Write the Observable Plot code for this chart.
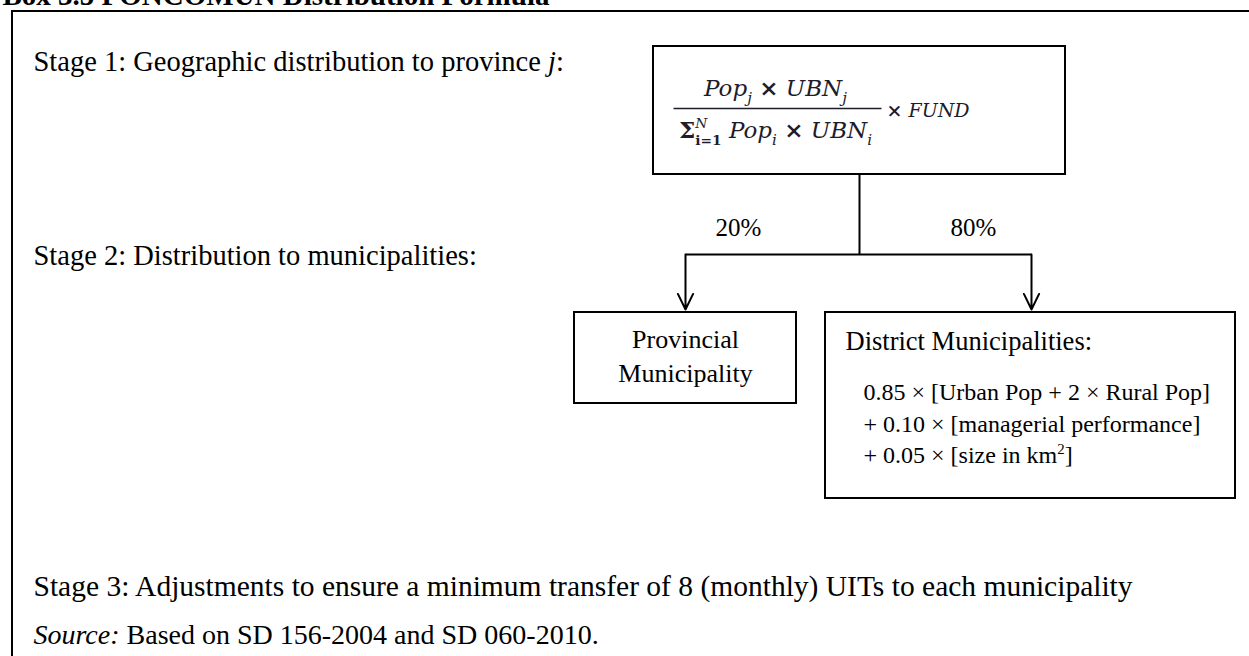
<!DOCTYPE html>
<html>
<head>
<meta charset="utf-8">
<script src="https://cdn.jsdelivr.net/npm/d3@7"></script>
<script src="https://cdn.jsdelivr.net/npm/@observablehq/plot@0.6"></script>
<style>
  html, body { margin: 0; padding: 0; background: #fff; overflow: hidden; }
  #chart svg { display: block; overflow: visible; }
</style>
</head>
<body>
<div id="chart"></div>
<script>
// ---------- content (texts) ----------
const titleText = ["Box 3.5 FONCOMUN Distribution Formula"];
const stageLabels = [
  "Stage 1: Geographic distribution to province *j*:",
  "Stage 2: Distribution to municipalities:",
  "Stage 3: Adjustments to ensure a minimum transfer of 8 (monthly) UITs to each municipality"
];
const shareLabels = ["20%", "80%"];
const provincialLines = ["Provincial", "Municipality"];
const districtHeading = ["District Municipalities:"];
const districtTerms = [
  "0.85 × [Urban Pop + 2 × Rural Pop]",
  "+ 0.10 × [managerial performance]",
  "+ 0.05 × [size in km^{2}]"
];
const numeratorText = ["Pop_{j} !{×} UBN_{j}"];
const denominatorText = ["!{Σ}^{N}_{i=1} Pop_{i} !{×} UBN_{i}"];
const multiplierText = ["!{×} FUND"];
const sourceText = ["*Source:* Based on SD 156-2004 and SD 060-2010."];

// ---------- layout (pixel positions on identity-like scales) ----------
const W = 1249, H = 656;
const layout = {
  frame: {x1: 12, y1: 11, x2: 1262, y2: 680},
  formulaBox: {x1: 653, y1: 46, x2: 1065, y2: 174},
  provBox: {x1: 574, y1: 312, x2: 796, y2: 403},
  distBox: {x1: 825, y1: 312, x2: 1235, y2: 498},
  stem: {x: 859, y1: 174, y2: 254},
  branchY: 254,
  arrowEnd: 309,
  branchX: [685, 1031],
  stageX: 33,
  stageY: [61, 255, 586],
  stageSize: [28.5, 28.5, 29.5],
  sourceY: 635,
  titleX: 2, titleY: -5,
  shareX: [738, 973], shareY: 227,
  provX: 685, provY: [339, 373],
  headX: 845, headY: 341,
  termX: 863, termY: [392, 424, 455],
  fracX1: 673, fracX2: 881, fracY: 108,
  numX: 775, numY: 88, denX: 775, denY: 130,
  multX: 886, multY: 110
};

const serif = "Liberation Serif, Times New Roman, serif";
const mathFont = "DejaVu Serif, serif";
const ink = "#000";
const mathInk = "#1e1b2c";

const boxes = [layout.formulaBox, layout.provBox, layout.distBox];
const stem = [{x1: layout.stem.x, y1: layout.stem.y1, x2: layout.stem.x, y2: layout.stem.y2}];
const branch = [{x1: layout.branchX[0], y1: layout.branchY, x2: layout.branchX[1], y2: layout.branchY}];
const arrows = layout.branchX.map(x => ({x1: x, y1: layout.branchY, x2: x, y2: layout.arrowEnd}));
const fracLine = [{x1: layout.fracX1, y1: layout.fracY, x2: layout.fracX2, y2: layout.fracY}];

const plot = Plot.plot({
  width: W,
  height: H,
  margin: 0,
  x: {domain: [0, W], range: [0, W], axis: null},
  y: {domain: [0, H], range: [0, H], axis: null},
  style: {fontFamily: serif, fontSize: "20px", background: "#fff", color: ink, overflow: "visible"},
  marks: [
    Plot.rect([layout.frame], {x1: "x1", y1: "y1", x2: "x2", y2: "y2", fill: "none", stroke: ink, strokeWidth: 2}),
    Plot.rect(boxes, {x1: "x1", y1: "y1", x2: "x2", y2: "y2", fill: "none", stroke: ink, strokeWidth: 2}),
    Plot.link(stem, {x1: "x1", y1: "y1", x2: "x2", y2: "y2", stroke: ink, strokeWidth: 2}),
    Plot.link(branch, {x1: "x1", y1: "y1", x2: "x2", y2: "y2", stroke: ink, strokeWidth: 2}),
    Plot.arrow(arrows, {x1: "x1", y1: "y1", x2: "x2", y2: "y2", stroke: ink, strokeWidth: 2, headLength: 13, headAngle: 52}),
    Plot.link(fracLine, {x1: "x1", y1: "y1", x2: "x2", y2: "y2", stroke: mathInk, strokeWidth: 1.5}),
    // title (cut at the top edge)
    Plot.text(titleText, {x: () => layout.titleX, y: () => layout.titleY, text: d => d, textAnchor: "start", fontWeight: "bold", fontSize: 29, fill: ink}),
    // stage labels
    ...stageLabels.map((s, i) => Plot.text([s], {x: () => layout.stageX, y: () => layout.stageY[i], text: d => d, textAnchor: "start", fontSize: layout.stageSize[i], fill: ink})),
    Plot.text(sourceText, {x: () => layout.stageX, y: () => layout.sourceY, text: d => d, textAnchor: "start", fontSize: 28, fill: ink}),
    // shares
    Plot.text(shareLabels, {x: (d, i) => layout.shareX[i], y: () => layout.shareY, text: d => d, fontSize: 25, fill: ink}),
    // provincial box
    Plot.text(provincialLines, {x: () => layout.provX, y: (d, i) => layout.provY[i], text: d => d, fontSize: 26, fill: ink}),
    // district box
    Plot.text(districtHeading, {x: () => layout.headX, y: () => layout.headY, text: d => d, textAnchor: "start", fontSize: 26.5, fill: ink}),
    Plot.text(districtTerms, {x: () => layout.termX, y: (d, i) => layout.termY[i], text: d => d, textAnchor: "start", fontSize: 24, fill: ink}),
    // formula
    Plot.text(numeratorText, {x: () => layout.numX, y: () => layout.numY, text: d => d, fontSize: 23, fontStyle: "italic", fontFamily: mathFont, fill: mathInk}),
    Plot.text(denominatorText, {x: () => layout.denX, y: () => layout.denY, text: d => d, fontSize: 23, fontStyle: "italic", fontFamily: mathFont, fill: mathInk}),
    Plot.text(multiplierText, {x: () => layout.multX, y: () => layout.multY, text: d => d, textAnchor: "start", fontSize: 19, fontStyle: "italic", fontFamily: mathFont, fill: mathInk})
  ]
});

document.getElementById("chart").appendChild(plot);

// ---------- rich text post-processing: _{sub} ^{sup} *italic* !{bold} ----------
const NS = "http://www.w3.org/2000/svg";
function richify(svg) {
  const re = /(\^\{[^}]*\}_\{[^}]*\}|_\{[^}]*\}|\^\{[^}]*\}|\*[^*]*\*|!\{[^}]*\})/;
  svg.querySelectorAll("text").forEach(t => {
    const s = t.textContent;
    if (!re.test(s)) return;
    const fs = parseFloat(getComputedStyle(t).fontSize) || 20;
    while (t.firstChild) t.removeChild(t.firstChild);
    let shift = 0;
    const add = (str, o = {}) => {
      const ts = document.createElementNS(NS, "tspan");
      ts.textContent = str;
      const target = o.shift || 0;
      const dy = target - shift;
      if (dy) ts.setAttribute("dy", dy);
      shift = target;
      if (o.dx) ts.setAttribute("dx", o.dx);
      if (o.size) ts.setAttribute("font-size", o.size);
      if (o.italic) ts.setAttribute("font-style", "italic");
      if (o.upright) ts.setAttribute("font-style", "normal");
      if (o.bold) ts.setAttribute("font-weight", "bold");
      t.appendChild(ts);
      return ts;
    };
    for (const p of s.split(re)) {
      if (!p) continue;
      let m;
      if ((m = p.match(/^\^\{([^}]*)\}_\{([^}]*)\}$/))) {
        const sup = add(m[1], {size: 0.6 * fs, shift: -0.45 * fs});
        const w = sup.getComputedTextLength();
        add(m[2], {size: 0.6 * fs, shift: 0.3 * fs, dx: -w, bold: true, upright: true});
      } else if ((m = p.match(/^_\{([^}]*)\}$/))) {
        add(m[1], {size: 0.66 * fs, shift: 0.3 * fs});
      } else if ((m = p.match(/^\^\{([^}]*)\}$/))) {
        add(m[1], {size: 0.62 * fs, shift: -0.4 * fs});
      } else if ((m = p.match(/^\*([^*]*)\*$/))) {
        add(m[1], {italic: true});
      } else if ((m = p.match(/^!\{([^}]*)\}$/))) {
        add(m[1], {bold: true, upright: true});
      } else {
        add(p);
      }
    }
  });
}
richify(plot);
</script>
</body>
</html>
